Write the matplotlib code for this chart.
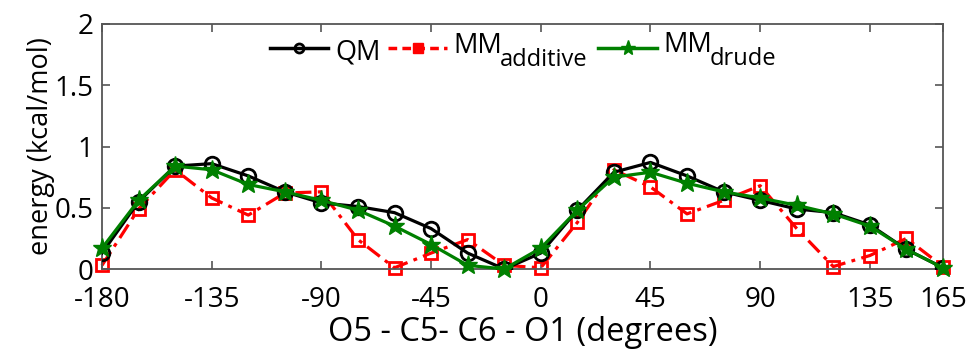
import matplotlib.pyplot as plt
from matplotlib.lines import Line2D

angles = list(range(-180, 166, 15))
qm = [0.13, 0.55, 0.84, 0.86, 0.76, 0.63, 0.54, 0.51, 0.46, 0.33, 0.13, 0.00,
      0.13, 0.48, 0.79, 0.87, 0.76, 0.63, 0.56, 0.49, 0.46, 0.36, 0.16, 0.01]
mm_additive = [0.03, 0.49, 0.81, 0.58, 0.44, 0.62, 0.63, 0.24, 0.01, 0.13, 0.24, 0.03,
               0.01, 0.38, 0.81, 0.67, 0.45, 0.56, 0.68, 0.33, 0.02, 0.11, 0.25, 0.02]
mm_drude = [0.17, 0.56, 0.84, 0.81, 0.69, 0.63, 0.56, 0.48, 0.35, 0.20, 0.03, 0.00,
            0.17, 0.48, 0.75, 0.79, 0.70, 0.63, 0.58, 0.52, 0.45, 0.35, 0.16, 0.01]
xticks = [-180, -135, -90, -45, 0, 45, 90, 135, 165]
xticklabels = ['-180', '-135', '-90', '-45', '0', '45', '90', '135', '165']
yticks = [0, 0.5, 1, 1.5, 2]
yticklabels = ['0', '0.5', '1', '1.5', '2']

W, H = 969, 352


def fx(x):
    return x / W


def fy(y):
    return 1 - y / H


def legend_item(fig, x0, x1, y, line_kw, marker_kw, main, sub, tx, base_y, sub_x=None, sub_base=None):
    fig.add_artist(Line2D([fx(x0), fx(x1)], [fy(y), fy(y)], transform=fig.transFigure, **line_kw))
    fig.add_artist(Line2D([fx((x0 + x1) / 2)], [fy(y)], transform=fig.transFigure, ls='none', **marker_kw))
    fig.text(fx(tx), fy(base_y), main, fontsize=19.5, va='baseline', ha='left')
    if sub:
        fig.text(fx(sub_x), fy(sub_base), sub, fontsize=17, va='baseline', ha='left')


def main():
    plt.rcParams['font.family'] = ['Open Sans', 'DejaVu Sans']
    fig = plt.figure(figsize=(W / 100, H / 100), dpi=100)
    ax = fig.add_axes([fx(102), fy(269), fx(943) - fx(102), fy(24) - fy(269)])

    ax.plot(angles, qm, color='black', lw=2.3, marker='o', ms=10.5,
            mfc='none', mew=2, zorder=3)
    ax.plot(angles, mm_additive, color='red', lw=2.3, dashes=(5, 2, 1.2, 2), marker='s', ms=8.5,
            mfc='none', mew=2, zorder=2, clip_on=False)
    ax.plot(angles, mm_drude, color='green', lw=2.3, marker='*', ms=14,
            mfc='green', mec='green', zorder=4, clip_on=False)

    ax.set_xlim(-180, 165)
    ax.set_ylim(0, 2)
    ax.set_xticks(xticks)
    ax.set_xticklabels(xticklabels)
    ax.set_yticks(yticks)
    ax.set_yticklabels(yticklabels)
    ax.tick_params(direction='in', top=True, right=True, labelsize=20,
                   length=6, width=1.2, color='#555555')
    ax.tick_params(axis='x', pad=12)
    ax.tick_params(axis='y', pad=6)
    for s in ax.spines.values():
        s.set_color('#555555')
        s.set_linewidth(1.3)

    ax.set_xlabel('O5 - C5- C6 - O1 (degrees)', fontsize=23.5, labelpad=2)
    ax.set_ylabel('energy (kcal/mol)', fontsize=19.5, labelpad=0)

    # legend drawn by hand so the subscripts keep their size
    legend_item(fig, 270, 328, 48, dict(color='black', lw=2.5),
                dict(marker='o', ms=6.5, mfc='none', mec='black', mew=2), 'QM', None, 335, 59)
    legend_item(fig, 388, 447, 48, dict(color='red', lw=2.5, dashes=(2.5, 1.5)),
                dict(marker='s', ms=6.5, mfc='red', mec='red'), 'MM', 'additive', 453, 53, 500, 66)
    legend_item(fig, 598, 657, 48, dict(color='green', lw=2.5),
                dict(marker='*', ms=11, mfc='green', mec='green'), 'MM', 'drude', 663, 52, 710, 65)

    fig.savefig('out.png', dpi=100)


if __name__ == '__main__':
    main()
